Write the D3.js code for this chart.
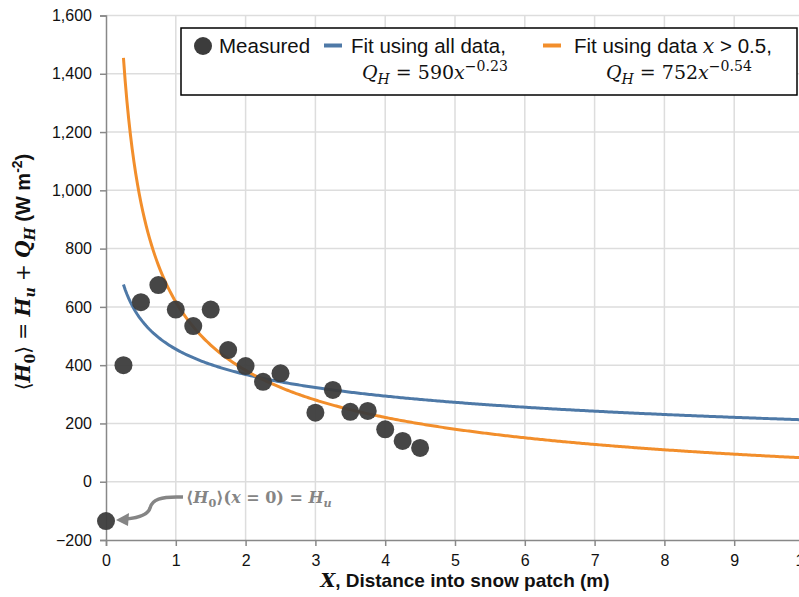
<!DOCTYPE html>
<html>
<head>
<meta charset="utf-8">
<script src="https://cdn.jsdelivr.net/npm/d3@7"></script>
<style>
  body { margin: 0; background: #fff; }
  svg { display: block; }
</style>
</head>
<body>
<svg id="chart" width="799" height="597"></svg>
<script>
// measured points
var measuredX = [0, 0.25, 0.5, 0.75, 1, 1.25, 1.5, 1.75, 2, 2.25, 2.5, 3, 3.25, 3.5, 3.75, 4, 4.25, 4.5];
var measuredY = [-135, 400, 616, 675, 591, 534, 591, 452, 397, 343, 372, 237, 315, 240, 243, 180, 140, 116];

// power-law fits from the legend, Q_H = a x^b, drawn as H_u + Q_H
var fitNames = ["all", "x>0.5"];
var fitCoef = [590, 752];
var fitExp = [-0.23, -0.54];
var fitColors = ["#4e79a7", "#f28e2b"];
var fitStart = 0.25, fitEnd = 10;

var xTicks = [0, 1, 2, 3, 4, 5, 6, 7, 8, 9, 10];
var yTicks = [-200, 0, 200, 400, 600, 800, 1000, 1200, 1400, 1600];

var SANS = "'Liberation Sans', Arial, Helvetica, sans-serif";
var SERIF = "'DejaVu Serif', 'Liberation Serif', serif";

var svg = d3.select("#chart");
var x = d3.scaleLinear().domain([0, 10]).range([106, 804]);
var y = d3.scaleLinear().domain([-200, 1600]).range([540, 15.5]);

// gridlines
svg.append("g").selectAll("line").data(xTicks.slice(1)).join("line")
    .attr("x1", function (d) { return x(d); }).attr("x2", function (d) { return x(d); })
    .attr("y1", y(1600)).attr("y2", y(-200))
    .attr("stroke", "#dddddd").attr("stroke-width", 1.5);
svg.append("g").selectAll("line").data(yTicks.slice(1)).join("line")
    .attr("x1", x(0)).attr("x2", x(10))
    .attr("y1", function (d) { return y(d); }).attr("y2", function (d) { return y(d); })
    .attr("stroke", "#dddddd").attr("stroke-width", 1.5);

// axes
var yAxis = svg.append("g").attr("transform", "translate(" + x(0) + ",0)")
    .call(d3.axisLeft(y).tickValues(yTicks).tickSize(6).tickPadding(8).tickFormat(d3.format(",")));
var xAxis = svg.append("g").attr("transform", "translate(0," + y(-200) + ")")
    .call(d3.axisBottom(x).tickValues(xTicks).tickSize(6).tickPadding(9).tickFormat(d3.format("d")));
[xAxis, yAxis].forEach(function (g) {
    g.select(".domain").attr("stroke", "#888").attr("stroke-width", 1.5);
    g.selectAll(".tick line").attr("stroke", "#888").attr("stroke-width", 1.5);
    g.selectAll("text").attr("font-family", SANS).attr("font-size", 16).attr("fill", "#111");
});

// fit curves
var line = d3.line().x(function (d) { return x(d[0]); }).y(function (d) { return y(d[1]); });
var hu = measuredY[0];
fitCoef.forEach(function (a, i) {
    var pts = d3.range(fitStart, fitEnd + 0.001, 0.025).map(function (v) {
        return [v, hu + a * Math.pow(v, fitExp[i])];
    });
    svg.append("path").datum(pts).attr("d", line)
        .attr("fill", "none").attr("stroke", fitColors[i]).attr("stroke-width", 3);
});

// measured points
svg.append("g").selectAll("circle").data(measuredX).join("circle")
    .attr("cx", function (d) { return x(d); })
    .attr("cy", function (d, i) { return y(measuredY[i]); })
    .attr("r", 9).attr("fill", "#3c3c3c").attr("fill-opacity", 0.95);

// rich text helper: parts of {t, f, w, s, sh} where sh is shift in em (+ down)
function rich(sel, parts, size, small) {
    var cur = 0;
    small = small || 0.7;
    parts.forEach(function (p) {
        var sh = p.sh || 0;
        var fs = sh !== 0 ? size * small : size;
        sel.append("tspan")
            .attr("dy", (sh - cur) * size)
            .attr("font-family", p.f || SANS)
            .attr("font-weight", p.w || "normal")
            .attr("font-style", p.s || "normal")
            .attr("font-size", fs)
            .text(p.t);
        cur = sh;
    });
}

// annotation at x = 0
var ax = x(0), ay = y(measuredY[0]);
svg.append("path")
    .attr("d", "M" + (ax + 77) + "," + (ay - 24) + " C" + (ax + 54) + "," + (ay - 25) + " " + (ax + 46) + "," + (ay - 21) + " " + (ax + 44) + "," + (ay - 13)
        + " C" + (ax + 42) + "," + (ay - 6) + " " + (ax + 30) + "," + (ay - 3) + " " + (ax + 20) + "," + (ay - 2))
    .attr("fill", "none").attr("stroke", "#858585").attr("stroke-width", 3.5);
svg.append("path")
    .attr("d", "M" + (ax + 10) + "," + (ay - 1) + " L" + (ax + 23) + "," + (ay - 8) + " L" + (ax + 22) + "," + (ay + 5) + "Z")
    .attr("fill", "#858585");
var ann = svg.append("text").attr("x", ax + 80).attr("y", ay - 18).attr("fill", "#858585");
rich(ann, [
    {t: "\u27e8", f: SERIF, w: "bold"}, {t: "H", f: SERIF, w: "bold", s: "italic"}, {t: "0", f: SERIF, w: "bold", sh: 0.25},
    {t: "\u27e9(", f: SERIF, w: "bold"}, {t: "x", f: SERIF, w: "bold", s: "italic"}, {t: " = 0) = ", f: SERIF, w: "bold"},
    {t: "H", f: SERIF, w: "bold", s: "italic"}, {t: "u", f: SERIF, w: "bold", s: "italic", sh: 0.25}
], 16);

// axis titles
var xt = svg.append("text").attr("x", 465).attr("y", 587).attr("text-anchor", "middle").attr("fill", "#111");
rich(xt, [
    {t: "X", f: SERIF, w: "bold", s: "italic"},
    {t: ", Distance into snow patch (m)", w: "bold"}
], 19);

var yt = svg.append("text").attr("transform", "translate(30,272) rotate(-90)")
    .attr("text-anchor", "middle").attr("fill", "#111");
rich(yt, [
    {t: "\u27e8", f: SERIF}, {t: "H", f: SERIF, w: "bold", s: "italic"}, {t: "0", f: SERIF, w: "bold", sh: 0.25},
    {t: "\u27e9 = ", f: SERIF}, {t: "H", f: SERIF, w: "bold", s: "italic"}, {t: "u", f: SERIF, w: "bold", s: "italic", sh: 0.25},
    {t: " + ", f: SERIF}, {t: "Q", f: SERIF, w: "bold", s: "italic"}, {t: "H", f: SERIF, w: "bold", s: "italic", sh: 0.25},
    {t: " (W m", w: "bold"}, {t: "-2", w: "bold", sh: -0.4}, {t: ")", w: "bold"}
], 20);

// legend
var lg = svg.append("g");
lg.append("rect").attr("x", 181).attr("y", 28).attr("width", 616).attr("height", 67)
    .attr("fill", "#fff").attr("stroke", "#000").attr("stroke-width", 1.5);
lg.append("circle").attr("cx", 203).attr("cy", 46).attr("r", 9).attr("fill", "#3c3c3c");
lg.append("text").attr("x", 219).attr("y", 53).attr("font-family", SANS).attr("font-size", 20.5)
    .attr("fill", "#111").text("Measured");

var legX = [324, 543];
var legT = [351, 574];
var legM = [362, 606];
fitNames.forEach(function (n, i) {
    lg.append("line").attr("x1", legX[i]).attr("x2", legX[i] + 18).attr("y1", 45.5).attr("y2", 45.5)
        .attr("stroke", fitColors[i]).attr("stroke-width", 4);
    var t1 = lg.append("text").attr("x", legT[i]).attr("y", 53).attr("fill", "#111");
    if (i === 0) {
        rich(t1, [{t: "Fit using all data,"}], 20.5);
    } else {
        rich(t1, [{t: "Fit using data "}, {t: "x", f: SERIF, s: "italic"}, {t: " > 0.5,"}], 20.5);
    }
    var t2 = lg.append("text").attr("x", legM[i]).attr("y", 79).attr("fill", "#111");
    rich(t2, [
        {t: "Q", f: SERIF, s: "italic"}, {t: "H", f: SERIF, s: "italic", sh: 0.25},
        {t: " = " + fitCoef[i], f: SERIF}, {t: "x", f: SERIF, s: "italic"},
        {t: "\u2212" + String(-fitExp[i]), f: SERIF, sh: -0.42}
    ], 19, 0.74);
});
</script>
</body>
</html>
